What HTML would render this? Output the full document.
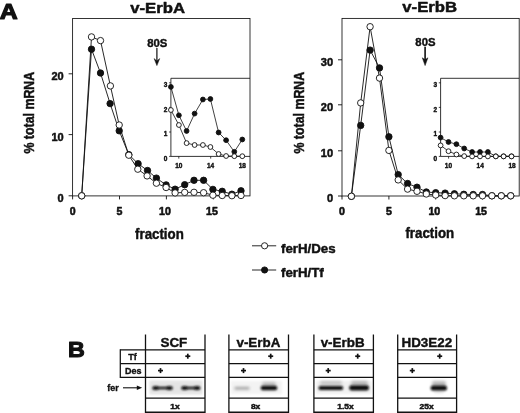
<!DOCTYPE html>
<html><head><meta charset="utf-8"><title>Figure</title>
<style>html,body{margin:0;padding:0;background:#fff}svg{display:block}</style>
</head><body>
<svg width="520" height="413" viewBox="0 0 520 413" font-family="'Liberation Sans', sans-serif" fill="#111">
<text transform="translate(130.2,12.6) scale(1.115,1)" font-size="15" font-weight="bold" text-anchor="start" stroke="#111" stroke-width="0.5" stroke-linejoin="round">v-ErbA</text>
<rect x="72.6" y="18.5" width="177.4" height="177.4" fill="none" stroke="#111" stroke-width="0.85"/>
<line x1="72.6" y1="195.9" x2="72.6" y2="199.4" stroke="#111" stroke-width="0.9"/>
<text transform="translate(72.6,215.3)" font-size="10.6" font-weight="bold" text-anchor="middle" stroke="#111" stroke-width="0.55" stroke-linejoin="round">0</text>
<line x1="119.5" y1="195.9" x2="119.5" y2="199.4" stroke="#111" stroke-width="0.9"/>
<text transform="translate(119.5,215.3)" font-size="10.6" font-weight="bold" text-anchor="middle" stroke="#111" stroke-width="0.55" stroke-linejoin="round">5</text>
<line x1="166.4" y1="195.9" x2="166.4" y2="199.4" stroke="#111" stroke-width="0.9"/>
<text transform="translate(165.0,215.3)" font-size="10.6" font-weight="bold" text-anchor="middle" stroke="#111" stroke-width="0.55" stroke-linejoin="round">10</text>
<line x1="213.3" y1="195.9" x2="213.3" y2="199.4" stroke="#111" stroke-width="0.9"/>
<text transform="translate(211.9,215.3)" font-size="10.6" font-weight="bold" text-anchor="middle" stroke="#111" stroke-width="0.55" stroke-linejoin="round">15</text>
<line x1="68.6" y1="195.8" x2="72.6" y2="195.8" stroke="#111" stroke-width="0.9"/>
<text transform="translate(63.7,201.9)" font-size="11" font-weight="bold" text-anchor="end" stroke="#111" stroke-width="0.5" stroke-linejoin="round">0</text>
<line x1="68.6" y1="134.6" x2="72.6" y2="134.6" stroke="#111" stroke-width="0.9"/>
<text transform="translate(63.7,140.7)" font-size="11" font-weight="bold" text-anchor="end" stroke="#111" stroke-width="0.5" stroke-linejoin="round">10</text>
<line x1="68.6" y1="73.8" x2="72.6" y2="73.8" stroke="#111" stroke-width="0.9"/>
<text transform="translate(63.7,79.9)" font-size="11" font-weight="bold" text-anchor="end" stroke="#111" stroke-width="0.5" stroke-linejoin="round">20</text>
<polyline fill="none" stroke="#111" stroke-width="0.85" points="250.0,78.3 170.9,78.3 170.9,156.4 250.0,156.4"/>
<line x1="178.8" y1="156.4" x2="178.8" y2="158.6" stroke="#111" stroke-width="0.8"/>
<text transform="translate(178.8,167.5)" font-size="6.5" font-weight="bold" text-anchor="middle" stroke="#111" stroke-width="0.4" stroke-linejoin="round">10</text>
<line x1="210.7" y1="156.4" x2="210.7" y2="158.6" stroke="#111" stroke-width="0.8"/>
<text transform="translate(210.6,167.5)" font-size="6.5" font-weight="bold" text-anchor="middle" stroke="#111" stroke-width="0.4" stroke-linejoin="round">14</text>
<line x1="242.4" y1="156.4" x2="242.4" y2="158.6" stroke="#111" stroke-width="0.8"/>
<text transform="translate(242.3,167.5)" font-size="6.5" font-weight="bold" text-anchor="middle" stroke="#111" stroke-width="0.4" stroke-linejoin="round">18</text>
<line x1="169.1" y1="156.4" x2="170.9" y2="156.4" stroke="#111" stroke-width="0.8"/>
<text transform="translate(167.3,161.0)" font-size="6.5" font-weight="bold" text-anchor="end" stroke="#111" stroke-width="0.4" stroke-linejoin="round">0</text>
<line x1="169.1" y1="132.0" x2="170.9" y2="132.0" stroke="#111" stroke-width="0.8"/>
<text transform="translate(167.3,135.9)" font-size="6.5" font-weight="bold" text-anchor="end" stroke="#111" stroke-width="0.4" stroke-linejoin="round">1</text>
<line x1="169.1" y1="107.4" x2="170.9" y2="107.4" stroke="#111" stroke-width="0.8"/>
<text transform="translate(167.3,111.7)" font-size="6.5" font-weight="bold" text-anchor="end" stroke="#111" stroke-width="0.4" stroke-linejoin="round">2</text>
<line x1="169.1" y1="82.8" x2="170.9" y2="82.8" stroke="#111" stroke-width="0.8"/>
<text transform="translate(167.3,87.0)" font-size="6.5" font-weight="bold" text-anchor="end" stroke="#111" stroke-width="0.4" stroke-linejoin="round">3</text>
<polyline fill="none" stroke="#111" stroke-width="0.9" points="81.7,195.8 91.5,49.2 100.5,73.0 110.1,103.6 119.2,130.8 128.8,154.6 138.1,163.7 147.5,170.5 156.4,178.1 166.1,184.9 175.1,189.2 184.7,184.7 194.0,180.3 203.6,180.3 212.9,189.4 222.2,191.3 231.9,194.2 241.0,190.8"/>
<circle cx="81.7" cy="195.8" r="3.20" fill="#111" stroke="#111" stroke-width="0.9"/>
<circle cx="91.5" cy="49.2" r="3.20" fill="#111" stroke="#111" stroke-width="0.9"/>
<circle cx="100.5" cy="73.0" r="3.20" fill="#111" stroke="#111" stroke-width="0.9"/>
<circle cx="110.1" cy="103.6" r="3.20" fill="#111" stroke="#111" stroke-width="0.9"/>
<circle cx="119.2" cy="130.8" r="3.20" fill="#111" stroke="#111" stroke-width="0.9"/>
<circle cx="128.8" cy="154.6" r="3.20" fill="#111" stroke="#111" stroke-width="0.9"/>
<circle cx="138.1" cy="163.7" r="3.20" fill="#111" stroke="#111" stroke-width="0.9"/>
<circle cx="147.5" cy="170.5" r="3.20" fill="#111" stroke="#111" stroke-width="0.9"/>
<circle cx="156.4" cy="178.1" r="3.20" fill="#111" stroke="#111" stroke-width="0.9"/>
<circle cx="166.1" cy="184.9" r="3.20" fill="#111" stroke="#111" stroke-width="0.9"/>
<circle cx="175.1" cy="189.2" r="3.20" fill="#111" stroke="#111" stroke-width="0.9"/>
<circle cx="184.7" cy="184.7" r="3.20" fill="#111" stroke="#111" stroke-width="0.9"/>
<circle cx="194.0" cy="180.3" r="3.20" fill="#111" stroke="#111" stroke-width="0.9"/>
<circle cx="203.6" cy="180.3" r="3.20" fill="#111" stroke="#111" stroke-width="0.9"/>
<circle cx="212.9" cy="189.4" r="3.20" fill="#111" stroke="#111" stroke-width="0.9"/>
<circle cx="222.2" cy="191.3" r="3.20" fill="#111" stroke="#111" stroke-width="0.9"/>
<circle cx="231.9" cy="194.2" r="3.20" fill="#111" stroke="#111" stroke-width="0.9"/>
<circle cx="241.0" cy="190.8" r="3.20" fill="#111" stroke="#111" stroke-width="0.9"/>
<polyline fill="none" stroke="#111" stroke-width="0.9" points="81.7,195.8 91.5,36.9 100.5,40.6 110.4,85.9 119.2,125.0 128.8,155.2 137.8,169.2 147.1,175.9 156.4,183.2 166.1,187.5 175.1,192.9 184.7,192.4 194.0,192.3 203.6,192.7 212.9,195.2 222.2,195.5 231.9,195.7 241.0,195.5"/>
<circle cx="81.7" cy="195.8" r="3.20" fill="#fff" stroke="#111" stroke-width="0.9"/>
<circle cx="91.5" cy="36.9" r="3.20" fill="#fff" stroke="#111" stroke-width="0.9"/>
<circle cx="100.5" cy="40.6" r="3.20" fill="#fff" stroke="#111" stroke-width="0.9"/>
<circle cx="110.4" cy="85.9" r="3.20" fill="#fff" stroke="#111" stroke-width="0.9"/>
<circle cx="119.2" cy="125.0" r="3.20" fill="#fff" stroke="#111" stroke-width="0.9"/>
<circle cx="128.8" cy="155.2" r="3.20" fill="#fff" stroke="#111" stroke-width="0.9"/>
<circle cx="137.8" cy="169.2" r="3.20" fill="#fff" stroke="#111" stroke-width="0.9"/>
<circle cx="147.1" cy="175.9" r="3.20" fill="#fff" stroke="#111" stroke-width="0.9"/>
<circle cx="156.4" cy="183.2" r="3.20" fill="#fff" stroke="#111" stroke-width="0.9"/>
<circle cx="166.1" cy="187.5" r="3.20" fill="#fff" stroke="#111" stroke-width="0.9"/>
<circle cx="175.1" cy="192.9" r="3.20" fill="#fff" stroke="#111" stroke-width="0.9"/>
<circle cx="184.7" cy="192.4" r="3.20" fill="#fff" stroke="#111" stroke-width="0.9"/>
<circle cx="194.0" cy="192.3" r="3.20" fill="#fff" stroke="#111" stroke-width="0.9"/>
<circle cx="203.6" cy="192.7" r="3.20" fill="#fff" stroke="#111" stroke-width="0.9"/>
<circle cx="212.9" cy="195.2" r="3.20" fill="#fff" stroke="#111" stroke-width="0.9"/>
<circle cx="222.2" cy="195.5" r="3.20" fill="#fff" stroke="#111" stroke-width="0.9"/>
<circle cx="231.9" cy="195.7" r="3.20" fill="#fff" stroke="#111" stroke-width="0.9"/>
<circle cx="241.0" cy="195.5" r="3.20" fill="#fff" stroke="#111" stroke-width="0.9"/>
<polyline fill="none" stroke="#111" stroke-width="0.8" points="170.9,86.9 178.9,115.3 186.6,131.0 194.6,113.6 202.9,99.5 210.4,99.0 218.6,132.5 226.1,140.2 234.3,151.8 242.3,139.5"/>
<circle cx="170.9" cy="86.9" r="2.40" fill="#111" stroke="#111" stroke-width="0.9"/>
<circle cx="178.9" cy="115.3" r="2.40" fill="#111" stroke="#111" stroke-width="0.9"/>
<circle cx="186.6" cy="131.0" r="2.40" fill="#111" stroke="#111" stroke-width="0.9"/>
<circle cx="194.6" cy="113.6" r="2.40" fill="#111" stroke="#111" stroke-width="0.9"/>
<circle cx="202.9" cy="99.5" r="2.40" fill="#111" stroke="#111" stroke-width="0.9"/>
<circle cx="210.4" cy="99.0" r="2.40" fill="#111" stroke="#111" stroke-width="0.9"/>
<circle cx="218.6" cy="132.5" r="2.40" fill="#111" stroke="#111" stroke-width="0.9"/>
<circle cx="226.1" cy="140.2" r="2.40" fill="#111" stroke="#111" stroke-width="0.9"/>
<circle cx="234.3" cy="151.8" r="2.40" fill="#111" stroke="#111" stroke-width="0.9"/>
<circle cx="242.3" cy="139.5" r="2.40" fill="#111" stroke="#111" stroke-width="0.9"/>
<polyline fill="none" stroke="#111" stroke-width="0.8" points="170.9,110.0 178.9,125.0 186.6,143.1 194.6,145.0 202.9,145.0 210.4,147.0 218.6,154.0 226.1,156.0 234.3,156.2 242.3,156.2"/>
<circle cx="170.9" cy="110.0" r="2.40" fill="#fff" stroke="#111" stroke-width="0.9"/>
<circle cx="178.9" cy="125.0" r="2.40" fill="#fff" stroke="#111" stroke-width="0.9"/>
<circle cx="186.6" cy="143.1" r="2.40" fill="#fff" stroke="#111" stroke-width="0.9"/>
<circle cx="194.6" cy="145.0" r="2.40" fill="#fff" stroke="#111" stroke-width="0.9"/>
<circle cx="202.9" cy="145.0" r="2.40" fill="#fff" stroke="#111" stroke-width="0.9"/>
<circle cx="210.4" cy="147.0" r="2.40" fill="#fff" stroke="#111" stroke-width="0.9"/>
<circle cx="218.6" cy="154.0" r="2.40" fill="#fff" stroke="#111" stroke-width="0.9"/>
<circle cx="226.1" cy="156.0" r="2.40" fill="#fff" stroke="#111" stroke-width="0.9"/>
<circle cx="234.3" cy="156.2" r="2.40" fill="#fff" stroke="#111" stroke-width="0.9"/>
<circle cx="242.3" cy="156.2" r="2.40" fill="#fff" stroke="#111" stroke-width="0.9"/>

<text transform="translate(157.2,46.8) scale(1.030,1)" font-size="11" font-weight="bold" text-anchor="middle" stroke="#111" stroke-width="0.4" stroke-linejoin="round">80S</text>
<line x1="156.9" y1="48.0" x2="156.9" y2="62.0" stroke="#111" stroke-width="1.2"/>
<path d="M154.1 58.6 L156.9 65.6 L159.7 58.6 L156.9 61.0 Z" fill="#111" stroke="#111" stroke-width="0.5" stroke-linejoin="round"/>
<text transform="translate(402.3,12.1) scale(1.115,1)" font-size="15" font-weight="bold" text-anchor="start" stroke="#111" stroke-width="0.5" stroke-linejoin="round">v-ErbB</text>
<rect x="342.0" y="18.4" width="177.2" height="177.6" fill="none" stroke="#111" stroke-width="0.85"/>
<line x1="342.0" y1="196.0" x2="342.0" y2="199.5" stroke="#111" stroke-width="0.9"/>
<text transform="translate(342.0,215.3)" font-size="10.6" font-weight="bold" text-anchor="middle" stroke="#111" stroke-width="0.55" stroke-linejoin="round">0</text>
<line x1="388.9" y1="196.0" x2="388.9" y2="199.5" stroke="#111" stroke-width="0.9"/>
<text transform="translate(388.9,215.3)" font-size="10.6" font-weight="bold" text-anchor="middle" stroke="#111" stroke-width="0.55" stroke-linejoin="round">5</text>
<line x1="435.7" y1="196.0" x2="435.7" y2="199.5" stroke="#111" stroke-width="0.9"/>
<text transform="translate(434.3,215.3)" font-size="10.6" font-weight="bold" text-anchor="middle" stroke="#111" stroke-width="0.55" stroke-linejoin="round">10</text>
<line x1="482.5" y1="196.0" x2="482.5" y2="199.5" stroke="#111" stroke-width="0.9"/>
<text transform="translate(481.1,215.3)" font-size="10.6" font-weight="bold" text-anchor="middle" stroke="#111" stroke-width="0.55" stroke-linejoin="round">15</text>
<line x1="338.0" y1="196.0" x2="342.0" y2="196.0" stroke="#111" stroke-width="0.9"/>
<text transform="translate(333.1,202.1)" font-size="11" font-weight="bold" text-anchor="end" stroke="#111" stroke-width="0.5" stroke-linejoin="round">0</text>
<line x1="338.0" y1="150.8" x2="342.0" y2="150.8" stroke="#111" stroke-width="0.9"/>
<text transform="translate(333.1,156.9)" font-size="11" font-weight="bold" text-anchor="end" stroke="#111" stroke-width="0.5" stroke-linejoin="round">10</text>
<line x1="338.0" y1="104.8" x2="342.0" y2="104.8" stroke="#111" stroke-width="0.9"/>
<text transform="translate(333.1,110.9)" font-size="11" font-weight="bold" text-anchor="end" stroke="#111" stroke-width="0.5" stroke-linejoin="round">20</text>
<line x1="338.0" y1="59.8" x2="342.0" y2="59.8" stroke="#111" stroke-width="0.9"/>
<text transform="translate(333.1,65.9)" font-size="11" font-weight="bold" text-anchor="end" stroke="#111" stroke-width="0.5" stroke-linejoin="round">30</text>
<polyline fill="none" stroke="#111" stroke-width="0.85" points="519.2,78.3 440.6,78.3 440.6,156.4 519.2,156.4"/>
<line x1="448.6" y1="156.4" x2="448.6" y2="158.6" stroke="#111" stroke-width="0.8"/>
<text transform="translate(448.4,167.5)" font-size="6.5" font-weight="bold" text-anchor="middle" stroke="#111" stroke-width="0.4" stroke-linejoin="round">10</text>
<line x1="480.4" y1="156.4" x2="480.4" y2="158.6" stroke="#111" stroke-width="0.8"/>
<text transform="translate(480.2,167.5)" font-size="6.5" font-weight="bold" text-anchor="middle" stroke="#111" stroke-width="0.4" stroke-linejoin="round">14</text>
<line x1="512.1" y1="156.4" x2="512.1" y2="158.6" stroke="#111" stroke-width="0.8"/>
<text transform="translate(512.0,167.5)" font-size="6.5" font-weight="bold" text-anchor="middle" stroke="#111" stroke-width="0.4" stroke-linejoin="round">18</text>
<line x1="438.8" y1="156.4" x2="440.6" y2="156.4" stroke="#111" stroke-width="0.8"/>
<text transform="translate(437.0,161.0)" font-size="6.5" font-weight="bold" text-anchor="end" stroke="#111" stroke-width="0.4" stroke-linejoin="round">0</text>
<line x1="438.8" y1="132.0" x2="440.6" y2="132.0" stroke="#111" stroke-width="0.8"/>
<text transform="translate(437.0,135.9)" font-size="6.5" font-weight="bold" text-anchor="end" stroke="#111" stroke-width="0.4" stroke-linejoin="round">1</text>
<line x1="438.8" y1="107.4" x2="440.6" y2="107.4" stroke="#111" stroke-width="0.8"/>
<text transform="translate(437.0,111.7)" font-size="6.5" font-weight="bold" text-anchor="end" stroke="#111" stroke-width="0.4" stroke-linejoin="round">2</text>
<line x1="438.8" y1="82.8" x2="440.6" y2="82.8" stroke="#111" stroke-width="0.8"/>
<text transform="translate(437.0,87.0)" font-size="6.5" font-weight="bold" text-anchor="end" stroke="#111" stroke-width="0.4" stroke-linejoin="round">3</text>
<polyline fill="none" stroke="#111" stroke-width="0.9" points="351.4,196.3 360.7,125.4 370.1,50.1 379.5,67.9 388.9,136.8 398.2,174.6 407.6,183.5 417.0,187.2 426.3,192.0 435.7,192.7 445.1,193.1 454.4,193.8 463.8,194.3 473.2,194.5 482.5,194.5 491.9,195.8 501.3,195.8 510.7,195.8"/>
<circle cx="351.4" cy="196.3" r="3.20" fill="#111" stroke="#111" stroke-width="0.9"/>
<circle cx="360.7" cy="125.4" r="3.20" fill="#111" stroke="#111" stroke-width="0.9"/>
<circle cx="370.1" cy="50.1" r="3.20" fill="#111" stroke="#111" stroke-width="0.9"/>
<circle cx="379.5" cy="67.9" r="3.20" fill="#111" stroke="#111" stroke-width="0.9"/>
<circle cx="388.9" cy="136.8" r="3.20" fill="#111" stroke="#111" stroke-width="0.9"/>
<circle cx="398.2" cy="174.6" r="3.20" fill="#111" stroke="#111" stroke-width="0.9"/>
<circle cx="407.6" cy="183.5" r="3.20" fill="#111" stroke="#111" stroke-width="0.9"/>
<circle cx="417.0" cy="187.2" r="3.20" fill="#111" stroke="#111" stroke-width="0.9"/>
<circle cx="426.3" cy="192.0" r="3.20" fill="#111" stroke="#111" stroke-width="0.9"/>
<circle cx="435.7" cy="192.7" r="3.20" fill="#111" stroke="#111" stroke-width="0.9"/>
<circle cx="445.1" cy="193.1" r="3.20" fill="#111" stroke="#111" stroke-width="0.9"/>
<circle cx="454.4" cy="193.8" r="3.20" fill="#111" stroke="#111" stroke-width="0.9"/>
<circle cx="463.8" cy="194.3" r="3.20" fill="#111" stroke="#111" stroke-width="0.9"/>
<circle cx="473.2" cy="194.5" r="3.20" fill="#111" stroke="#111" stroke-width="0.9"/>
<circle cx="482.5" cy="194.5" r="3.20" fill="#111" stroke="#111" stroke-width="0.9"/>
<circle cx="491.9" cy="195.8" r="3.20" fill="#111" stroke="#111" stroke-width="0.9"/>
<circle cx="501.3" cy="195.8" r="3.20" fill="#111" stroke="#111" stroke-width="0.9"/>
<circle cx="510.7" cy="195.8" r="3.20" fill="#111" stroke="#111" stroke-width="0.9"/>
<polyline fill="none" stroke="#111" stroke-width="0.9" points="351.4,196.3 360.7,102.9 370.1,26.7 379.5,78.1 388.9,150.4 398.2,179.9 407.6,189.1 417.0,191.3 426.3,194.0 435.7,195.0 445.1,195.6 454.4,195.8 463.8,195.8 473.2,195.8 482.5,195.8 491.9,195.8 501.3,195.8 510.7,195.8"/>
<circle cx="351.4" cy="196.3" r="3.20" fill="#fff" stroke="#111" stroke-width="0.9"/>
<circle cx="360.7" cy="102.9" r="3.20" fill="#fff" stroke="#111" stroke-width="0.9"/>
<circle cx="370.1" cy="26.7" r="3.20" fill="#fff" stroke="#111" stroke-width="0.9"/>
<circle cx="379.5" cy="78.1" r="3.20" fill="#fff" stroke="#111" stroke-width="0.9"/>
<circle cx="388.9" cy="150.4" r="3.20" fill="#fff" stroke="#111" stroke-width="0.9"/>
<circle cx="398.2" cy="179.9" r="3.20" fill="#fff" stroke="#111" stroke-width="0.9"/>
<circle cx="407.6" cy="189.1" r="3.20" fill="#fff" stroke="#111" stroke-width="0.9"/>
<circle cx="417.0" cy="191.3" r="3.20" fill="#fff" stroke="#111" stroke-width="0.9"/>
<circle cx="426.3" cy="194.0" r="3.20" fill="#fff" stroke="#111" stroke-width="0.9"/>
<circle cx="435.7" cy="195.0" r="3.20" fill="#fff" stroke="#111" stroke-width="0.9"/>
<circle cx="445.1" cy="195.6" r="3.20" fill="#fff" stroke="#111" stroke-width="0.9"/>
<circle cx="454.4" cy="195.8" r="3.20" fill="#fff" stroke="#111" stroke-width="0.9"/>
<circle cx="463.8" cy="195.8" r="3.20" fill="#fff" stroke="#111" stroke-width="0.9"/>
<circle cx="473.2" cy="195.8" r="3.20" fill="#fff" stroke="#111" stroke-width="0.9"/>
<circle cx="482.5" cy="195.8" r="3.20" fill="#fff" stroke="#111" stroke-width="0.9"/>
<circle cx="491.9" cy="195.8" r="3.20" fill="#fff" stroke="#111" stroke-width="0.9"/>
<circle cx="501.3" cy="195.8" r="3.20" fill="#fff" stroke="#111" stroke-width="0.9"/>
<circle cx="510.7" cy="195.8" r="3.20" fill="#fff" stroke="#111" stroke-width="0.9"/>
<polyline fill="none" stroke="#111" stroke-width="0.8" points="440.6,137.6 448.5,142.0 456.4,144.2 464.2,148.5 472.1,152.0 480.0,152.0 487.9,152.0 495.8,156.3 503.6,156.3 511.5,156.3"/>
<circle cx="440.6" cy="137.6" r="2.40" fill="#111" stroke="#111" stroke-width="0.9"/>
<circle cx="448.5" cy="142.0" r="2.40" fill="#111" stroke="#111" stroke-width="0.9"/>
<circle cx="456.4" cy="144.2" r="2.40" fill="#111" stroke="#111" stroke-width="0.9"/>
<circle cx="464.2" cy="148.5" r="2.40" fill="#111" stroke="#111" stroke-width="0.9"/>
<circle cx="472.1" cy="152.0" r="2.40" fill="#111" stroke="#111" stroke-width="0.9"/>
<circle cx="480.0" cy="152.0" r="2.40" fill="#111" stroke="#111" stroke-width="0.9"/>
<circle cx="487.9" cy="152.0" r="2.40" fill="#111" stroke="#111" stroke-width="0.9"/>
<circle cx="495.8" cy="156.3" r="2.40" fill="#111" stroke="#111" stroke-width="0.9"/>
<circle cx="503.6" cy="156.3" r="2.40" fill="#111" stroke="#111" stroke-width="0.9"/>
<circle cx="511.5" cy="156.3" r="2.40" fill="#111" stroke="#111" stroke-width="0.9"/>
<polyline fill="none" stroke="#111" stroke-width="0.8" points="440.6,145.4 448.5,151.2 456.4,154.5 464.2,156.1 472.1,156.4 480.0,156.4 487.9,156.4 495.8,156.4 503.6,156.4 511.5,156.4"/>
<circle cx="440.6" cy="145.4" r="2.40" fill="#fff" stroke="#111" stroke-width="0.9"/>
<circle cx="448.5" cy="151.2" r="2.40" fill="#fff" stroke="#111" stroke-width="0.9"/>
<circle cx="456.4" cy="154.5" r="2.40" fill="#fff" stroke="#111" stroke-width="0.9"/>
<circle cx="464.2" cy="156.1" r="2.40" fill="#fff" stroke="#111" stroke-width="0.9"/>
<circle cx="472.1" cy="156.4" r="2.40" fill="#fff" stroke="#111" stroke-width="0.9"/>
<circle cx="480.0" cy="156.4" r="2.40" fill="#fff" stroke="#111" stroke-width="0.9"/>
<circle cx="487.9" cy="156.4" r="2.40" fill="#fff" stroke="#111" stroke-width="0.9"/>
<circle cx="495.8" cy="156.4" r="2.40" fill="#fff" stroke="#111" stroke-width="0.9"/>
<circle cx="503.6" cy="156.4" r="2.40" fill="#fff" stroke="#111" stroke-width="0.9"/>
<circle cx="511.5" cy="156.4" r="2.40" fill="#fff" stroke="#111" stroke-width="0.9"/>

<text transform="translate(425.4,45.6) scale(1.030,1)" font-size="11" font-weight="bold" text-anchor="middle" stroke="#111" stroke-width="0.4" stroke-linejoin="round">80S</text>
<line x1="425.1" y1="46.8" x2="425.1" y2="62.0" stroke="#111" stroke-width="1.6"/>
<path d="M422.3 57.8 L425.1 65.6 L427.9 57.8 L425.1 59.7 Z" fill="#111" stroke="#111" stroke-width="0.5" stroke-linejoin="round"/>
<text transform="translate(33.6,112.7) rotate(-90) scale(0.99,1.13)" font-size="12.5" font-weight="bold" text-anchor="middle" stroke="#111" stroke-width="0.4">% total mRNA</text>
<text transform="translate(304.1,112.7) rotate(-90) scale(0.99,1.13)" font-size="12.5" font-weight="bold" text-anchor="middle" stroke="#111" stroke-width="0.4">% total mRNA</text>
<text transform="translate(159.4,238.7) scale(0.950,1)" font-size="14" font-weight="bold" text-anchor="middle" stroke="#111" stroke-width="0.45" stroke-linejoin="round">fraction</text>
<text transform="translate(429.8,238.0) scale(0.950,1)" font-size="14" font-weight="bold" text-anchor="middle" stroke="#111" stroke-width="0.45" stroke-linejoin="round">fraction</text>
<text transform="translate(-0.2,19.1) scale(1.160,1)" font-size="21.4" font-weight="bold" text-anchor="start" stroke="#111" stroke-width="1.2" stroke-linejoin="round">A</text>
<text transform="translate(67.9,356.9) scale(1.080,1)" font-size="21.6" font-weight="bold" text-anchor="start" stroke="#111" stroke-width="1.0" stroke-linejoin="round">B</text>
<line x1="252.0" y1="245.8" x2="276.2" y2="245.8" stroke="#111" stroke-width="0.9"/>
<circle cx="264.6" cy="245.8" r="3.10" fill="#fff" stroke="#111" stroke-width="0.9"/>
<text transform="translate(281.0,252.7) scale(1.080,1)" font-size="12.3" font-weight="bold" text-anchor="start" stroke="#111" stroke-width="0.45" stroke-linejoin="round">ferH/Des</text>
<line x1="252.0" y1="270.0" x2="276.2" y2="270.0" stroke="#111" stroke-width="0.9"/>
<circle cx="264.6" cy="270.0" r="3.10" fill="#111" stroke="#111" stroke-width="0.9"/>
<text transform="translate(281.0,277.0) scale(1.080,1)" font-size="12.3" font-weight="bold" text-anchor="start" stroke="#111" stroke-width="0.45" stroke-linejoin="round">ferH/Tf</text>
<defs><filter id="b1" x="-20%" y="-100%" width="140%" height="300%"><feGaussianBlur stdDeviation="0.95"/></filter><filter id="b2" x="-30%" y="-150%" width="160%" height="400%"><feGaussianBlur stdDeviation="1.5"/></filter><filter id="b3" x="-10%" y="-20%" width="120%" height="140%"><feGaussianBlur stdDeviation="1.2"/></filter></defs>
<rect x="149.5" y="380.5" width="53.0" height="14.0" fill="#e4e4e4" filter="url(#b3)"/>
<g filter="url(#b1)" fill="#0a0a0a"><rect x="154.3" y="386.8" width="16.5" height="2.4"/><ellipse cx="155.7" cy="388.0" rx="3.4" ry="2.1"/><ellipse cx="169.4" cy="388.0" rx="3.4" ry="2.1"/></g>
<g filter="url(#b1)" fill="#0a0a0a"><rect x="183.2" y="386.8" width="15.2" height="2.4"/><ellipse cx="184.6" cy="388.0" rx="3.4" ry="2.1"/><ellipse cx="197.0" cy="388.0" rx="3.4" ry="2.1"/></g>
<line x1="145.5" y1="334.5" x2="145.5" y2="413.0" stroke="#111" stroke-width="1.3"/>
<line x1="205.0" y1="334.5" x2="205.0" y2="413.0" stroke="#111" stroke-width="1.3"/>
<line x1="120.3" y1="349.9" x2="205.0" y2="349.9" stroke="#111" stroke-width="1.25"/>
<line x1="120.3" y1="363.7" x2="205.0" y2="363.7" stroke="#111" stroke-width="1.25"/>
<line x1="120.3" y1="377.3" x2="205.0" y2="377.3" stroke="#111" stroke-width="1.25"/>
<line x1="145.5" y1="398.0" x2="205.0" y2="398.0" stroke="#111" stroke-width="1.25"/>
<line x1="145.5" y1="412.2" x2="205.0" y2="412.2" stroke="#111" stroke-width="1.6"/>
<text transform="translate(173.9,346.9)" font-size="13.4" font-weight="bold" text-anchor="middle" stroke="#111" stroke-width="0.4" stroke-linejoin="round">SCF</text>
<line x1="185.3" y1="356.2" x2="190.3" y2="356.2" stroke="#111" stroke-width="1.7"/>
<line x1="187.8" y1="353.7" x2="187.8" y2="358.7" stroke="#111" stroke-width="1.7"/>
<line x1="158.0" y1="370.6" x2="163.0" y2="370.6" stroke="#111" stroke-width="1.7"/>
<line x1="160.5" y1="368.1" x2="160.5" y2="373.1" stroke="#111" stroke-width="1.7"/>
<text transform="translate(175.0,409.2) scale(1.040,1)" font-size="8.1" font-weight="bold" text-anchor="middle" stroke="#111" stroke-width="0.5" stroke-linejoin="round">1x</text>
<line x1="120.3" y1="349.3" x2="120.3" y2="377.9" stroke="#111" stroke-width="1.25"/>
<text transform="translate(132.5,360.2)" font-size="9" font-weight="bold" text-anchor="middle" stroke="#111" stroke-width="0.35" stroke-linejoin="round">Tf</text>
<text transform="translate(133.2,373.8)" font-size="9" font-weight="bold" text-anchor="middle" stroke="#111" stroke-width="0.35" stroke-linejoin="round">Des</text>
<text transform="translate(113.0,390.5)" font-size="9" font-weight="bold" text-anchor="middle" stroke="#111" stroke-width="0.35" stroke-linejoin="round">fer</text>
<line x1="123.0" y1="387.8" x2="139.0" y2="387.8" stroke="#111" stroke-width="1.1"/>
<path d="M136.8 385.6 L142.2 387.8 L136.8 390 Z" fill="#111"/>
<rect x="231.0" y="381.0" width="51.0" height="13.0" fill="#f3f3f3" filter="url(#b3)"/>
<rect x="262.0" y="382.0" width="14.0" height="4.0" rx="2" fill="#bbb" filter="url(#b2)"/>
<rect x="234.5" y="387.0" width="15.0" height="2.6" rx="1.3" fill="#999" filter="url(#b2)"/>
<rect x="260.6" y="385.7" width="16.7" height="4.6" rx="2.3" fill="#0a0a0a" filter="url(#b1)"/>
<line x1="228.9" y1="334.5" x2="228.9" y2="413.0" stroke="#111" stroke-width="1.3"/>
<line x1="288.5" y1="334.5" x2="288.5" y2="413.0" stroke="#111" stroke-width="1.3"/>
<line x1="228.9" y1="349.9" x2="288.5" y2="349.9" stroke="#111" stroke-width="1.25"/>
<line x1="228.9" y1="363.7" x2="288.5" y2="363.7" stroke="#111" stroke-width="1.25"/>
<line x1="228.9" y1="377.3" x2="288.5" y2="377.3" stroke="#111" stroke-width="1.25"/>
<line x1="228.9" y1="398.0" x2="288.5" y2="398.0" stroke="#111" stroke-width="1.25"/>
<line x1="228.9" y1="412.2" x2="288.5" y2="412.2" stroke="#111" stroke-width="1.6"/>
<text transform="translate(258.4,346.9)" font-size="13.4" font-weight="bold" text-anchor="middle" stroke="#111" stroke-width="0.4" stroke-linejoin="round">v-ErbA</text>
<line x1="268.2" y1="356.2" x2="273.2" y2="356.2" stroke="#111" stroke-width="1.7"/>
<line x1="270.7" y1="353.7" x2="270.7" y2="358.7" stroke="#111" stroke-width="1.7"/>
<line x1="241.0" y1="370.6" x2="246.0" y2="370.6" stroke="#111" stroke-width="1.7"/>
<line x1="243.5" y1="368.1" x2="243.5" y2="373.1" stroke="#111" stroke-width="1.7"/>
<text transform="translate(255.6,409.2) scale(1.040,1)" font-size="8.1" font-weight="bold" text-anchor="middle" stroke="#111" stroke-width="0.5" stroke-linejoin="round">8x</text>
<rect x="316.0" y="381.0" width="56.0" height="13.0" fill="#f1f1f1" filter="url(#b3)"/>
<rect x="320.0" y="381.0" width="22.0" height="4.0" rx="2" fill="#c4c4c4" filter="url(#b2)"/>
<rect x="351.0" y="381.0" width="17.0" height="4.0" rx="2" fill="#b4b4b4" filter="url(#b2)"/>
<rect x="318.5" y="386.1" width="24.7" height="3.8" rx="1.9" fill="#0a0a0a" filter="url(#b1)"/>
<rect x="349.2" y="385.2" width="19.8" height="5.2" rx="2.6" fill="#0a0a0a" filter="url(#b1)"/>
<line x1="313.9" y1="334.5" x2="313.9" y2="413.0" stroke="#111" stroke-width="1.3"/>
<line x1="373.4" y1="334.5" x2="373.4" y2="413.0" stroke="#111" stroke-width="1.3"/>
<line x1="313.9" y1="349.9" x2="373.4" y2="349.9" stroke="#111" stroke-width="1.25"/>
<line x1="313.9" y1="363.7" x2="373.4" y2="363.7" stroke="#111" stroke-width="1.25"/>
<line x1="313.9" y1="377.3" x2="373.4" y2="377.3" stroke="#111" stroke-width="1.25"/>
<line x1="313.9" y1="398.0" x2="373.4" y2="398.0" stroke="#111" stroke-width="1.25"/>
<line x1="313.9" y1="412.2" x2="373.4" y2="412.2" stroke="#111" stroke-width="1.6"/>
<text transform="translate(342.6,346.9)" font-size="13.4" font-weight="bold" text-anchor="middle" stroke="#111" stroke-width="0.4" stroke-linejoin="round">v-ErbB</text>
<line x1="355.2" y1="356.2" x2="360.2" y2="356.2" stroke="#111" stroke-width="1.7"/>
<line x1="357.7" y1="353.7" x2="357.7" y2="358.7" stroke="#111" stroke-width="1.7"/>
<line x1="325.7" y1="370.6" x2="330.7" y2="370.6" stroke="#111" stroke-width="1.7"/>
<line x1="328.2" y1="368.1" x2="328.2" y2="373.1" stroke="#111" stroke-width="1.7"/>
<text transform="translate(345.5,409.2) scale(1.040,1)" font-size="8.1" font-weight="bold" text-anchor="middle" stroke="#111" stroke-width="0.5" stroke-linejoin="round">1.5x</text>
<rect x="432.0" y="381.0" width="14.0" height="5.0" rx="2" fill="#b8b8b8" filter="url(#b2)"/>
<rect x="434.0" y="390.0" width="10.0" height="3.0" rx="2" fill="#ddd" filter="url(#b2)"/>
<rect x="430.6" y="385.4" width="16.4" height="5.2" rx="2.6" fill="#0a0a0a" filter="url(#b1)"/>
<line x1="397.7" y1="334.5" x2="397.7" y2="413.0" stroke="#111" stroke-width="1.3"/>
<line x1="456.6" y1="334.5" x2="456.6" y2="413.0" stroke="#111" stroke-width="1.3"/>
<line x1="397.7" y1="349.9" x2="456.6" y2="349.9" stroke="#111" stroke-width="1.25"/>
<line x1="397.7" y1="363.7" x2="456.6" y2="363.7" stroke="#111" stroke-width="1.25"/>
<line x1="397.7" y1="377.3" x2="456.6" y2="377.3" stroke="#111" stroke-width="1.25"/>
<line x1="397.7" y1="398.0" x2="456.6" y2="398.0" stroke="#111" stroke-width="1.25"/>
<line x1="397.7" y1="412.2" x2="456.6" y2="412.2" stroke="#111" stroke-width="1.6"/>
<text transform="translate(426.8,346.9)" font-size="13.4" font-weight="bold" text-anchor="middle" stroke="#111" stroke-width="0.4" stroke-linejoin="round">HD3E22</text>
<line x1="437.2" y1="356.2" x2="442.2" y2="356.2" stroke="#111" stroke-width="1.7"/>
<line x1="439.7" y1="353.7" x2="439.7" y2="358.7" stroke="#111" stroke-width="1.7"/>
<line x1="409.8" y1="370.6" x2="414.8" y2="370.6" stroke="#111" stroke-width="1.7"/>
<line x1="412.3" y1="368.1" x2="412.3" y2="373.1" stroke="#111" stroke-width="1.7"/>
<text transform="translate(426.6,409.2) scale(1.040,1)" font-size="8.1" font-weight="bold" text-anchor="middle" stroke="#111" stroke-width="0.5" stroke-linejoin="round">25x</text>
</svg>
</body></html>
